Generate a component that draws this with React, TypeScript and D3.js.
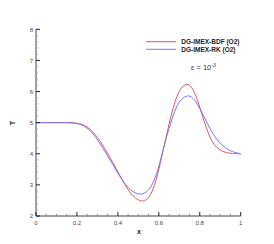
import React from "react";
import * as d3 from "d3";

const xBDF = [0, 0.1, 0.15, 0.18, 0.2, 0.225, 0.25, 0.275, 0.3, 0.325, 0.35, 0.375, 0.4, 0.425, 0.45, 0.475, 0.5, 0.52, 0.54, 0.56, 0.58, 0.6, 0.62, 0.64, 0.66, 0.68, 0.7, 0.72, 0.736, 0.75, 0.77, 0.79, 0.81, 0.83, 0.85, 0.87, 0.9, 0.93, 0.96, 1];
const yBDF = [5, 5, 5, 4.995, 4.98, 4.94, 4.86, 4.72, 4.52, 4.28, 4.0, 3.72, 3.42, 3.12, 2.85, 2.64, 2.52, 2.48, 2.53, 2.7, 3.02, 3.5, 4.08, 4.66, 5.22, 5.68, 6.0, 6.18, 6.23, 6.2, 6.02, 5.7, 5.28, 4.88, 4.54, 4.3, 4.12, 4.04, 4.01, 4.0];

const xRK = [0, 0.1, 0.15, 0.18, 0.2, 0.225, 0.25, 0.275, 0.3, 0.325, 0.35, 0.375, 0.4, 0.425, 0.45, 0.475, 0.5, 0.52, 0.54, 0.56, 0.58, 0.6, 0.62, 0.64, 0.66, 0.68, 0.7, 0.72, 0.744, 0.76, 0.78, 0.8, 0.82, 0.84, 0.86, 0.88, 0.9, 0.93, 0.96, 1];
const yRK = [5, 5, 5, 4.99, 4.97, 4.92, 4.82, 4.66, 4.45, 4.2, 3.93, 3.66, 3.38, 3.12, 2.92, 2.78, 2.71, 2.71, 2.78, 2.93, 3.2, 3.6, 4.1, 4.6, 5.02, 5.4, 5.66, 5.8, 5.86, 5.82, 5.68, 5.45, 5.2, 4.94, 4.7, 4.5, 4.34, 4.17, 4.07, 4.0];

const xTicks = [0, 0.2, 0.4, 0.6, 0.8, 1];
const yTicks = [2, 3, 4, 5, 6, 7, 8];
const seriesNames = ["DG-IMEX-BDF (O2)", "DG-IMEX-RK (O2)"];
const colors = ["#e8525c", "#7676ff"];

const App = () => {
  const x = d3.scaleLinear().domain([0, 1]).range([36, 240.7]);
  const y = d3.scaleLinear().domain([2, 8]).range([216, 29.3]);

  const line = d3
    .line<[number, number]>()
    .x((d) => x(d[0]))
    .y((d) => y(d[1]))
    .curve(d3.curveCatmullRom);

  const bdf = xBDF.map((v, i) => [v, yBDF[i]] as [number, number]);
  const rk = xRK.map((v, i) => [v, yRK[i]] as [number, number]);

  const xMinor = d3.range(0, 1.0001, 0.05).filter((v) => !xTicks.some((t) => Math.abs(t - v) < 1e-6));
  const yMinor = d3.range(2, 8.0001, 0.2).filter((v) => !yTicks.some((t) => Math.abs(t - v) < 1e-6));

  const font = "Liberation Sans, Arial, sans-serif";

  return (
    <svg width={274} height={244} style={{ position: "absolute", left: 0, top: 0, background: "#fff" }}>
      <g fontFamily={font}>
        {/* curves */}
        <path d={line(bdf) || ""} fill="none" stroke={colors[0]} strokeWidth={1} />
        <path d={line(rk) || ""} fill="none" stroke={colors[1]} strokeWidth={1} />

        {/* axes */}
        <line x1={x(0)} x2={x(1)} y1={y(2)} y2={y(2)} stroke="#444" strokeWidth={1} />
        <line x1={x(0)} x2={x(0)} y1={y(2)} y2={y(8)} stroke="#444" strokeWidth={1} />
        {xTicks.map((t) => (
          <g key={"xt" + t}>
            <line x1={x(t)} x2={x(t)} y1={y(2)} y2={y(2) - 4} stroke="#222" strokeWidth={1} />
            <text x={x(t)} y={224.5} fontSize={6} textAnchor="middle" fill="#444">{t}</text>
          </g>
        ))}
        {xMinor.map((t) => (
          <line key={"xm" + t} x1={x(t)} x2={x(t)} y1={y(2)} y2={y(2) - 2} stroke="#888" strokeWidth={1} />
        ))}
        {yTicks.map((t) => (
          <g key={"yt" + t}>
            <line x1={x(0)} x2={x(0) + 4} y1={y(t)} y2={y(t)} stroke="#222" strokeWidth={1} />
            <text x={33} y={y(t) + 2.2} fontSize={6} textAnchor="end" fill="#444">{t}</text>
          </g>
        ))}
        {yMinor.map((t) => (
          <line key={"ym" + t} x1={x(0)} x2={x(0) + 2} y1={y(t)} y2={y(t)} stroke="#aaa" strokeWidth={1} />
        ))}

        {/* axis titles */}
        <text x={139} y={233.5} fontSize={7} fontWeight="bold" textAnchor="middle" fill="#222">x</text>
        <text transform="translate(14.5,123) rotate(-90)" fontSize={7} fontWeight="bold" textAnchor="middle" fill="#222">T</text>

        {/* legend */}
        {seriesNames.map((n, i) => (
          <g key={n}>
            <line x1={146} x2={176} y1={41.7 + i * 7.6} y2={41.7 + i * 7.6} stroke={colors[i]} strokeWidth={1} />
            <text x={181.3} y={41.7 + i * 7.6 + 2.2} fontSize={6.5} fontWeight="bold" fill="#222">{n}</text>
          </g>
        ))}
        <text x={191} y={69.5} fontSize={7.5} fill="#333">
          ε = 10<tspan dy={-3} fontSize={5}>-3</tspan>
        </text>
      </g>
    </svg>
  );
};

export default App;
